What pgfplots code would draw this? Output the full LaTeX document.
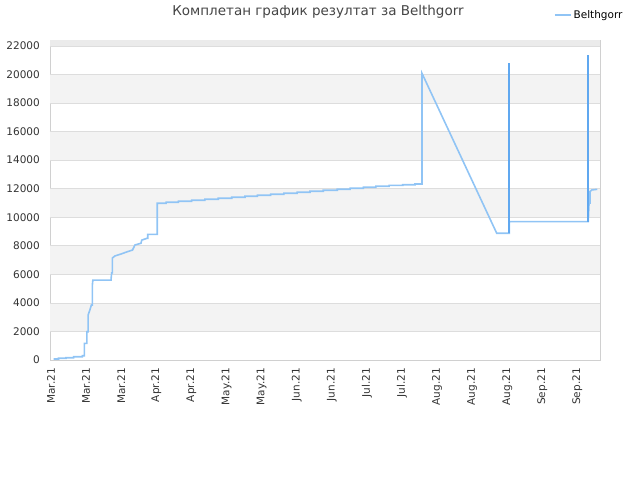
\documentclass[border=0pt]{standalone}
\usepackage{fontspec}
\setmainfont{DejaVu Sans}
\usepackage{pgfplots}
\pgfplotsset{compat=1.18}

\definecolor{linecol}{RGB}{144,196,245}
\definecolor{spikecol}{RGB}{96,168,240}
\definecolor{bandgray}{RGB}{243,243,243}
\definecolor{topgray}{RGB}{235,235,235}
\definecolor{gridgray}{RGB}{221,221,221}
\definecolor{boxgray}{RGB}{208,208,208}
\definecolor{titlegray}{RGB}{68,68,68}
\definecolor{tickgray}{RGB}{51,51,51}

\begin{document}
\begin{tikzpicture}
\path[use as bounding box] (-50bp,-120bp) rectangle (590bp,360bp);
\begin{axis}[
    scale only axis,
    width=550bp, height=320bp,
    at={(0,0)}, anchor=south west,
    xmin=-0.4, xmax=219,
    ymin=0, ymax=22420,
    axis line style={boxgray, line width=0.8bp},
    major tick length=0pt,
    scaled y ticks=false,
    ytick={0,2000,4000,6000,8000,10000,12000,14000,16000,18000,20000,22000},
    xtick={0,14,28,42,56,70,84,98,112,126,140,154,168,182,196,210},
    xticklabels={Mar.21,Mar.21,Mar.21,Apr.21,Apr.21,May.21,May.21,Jun.21,Jun.21,Jul.21,Jul.21,Aug.21,Aug.21,Aug.21,Sep.21,Sep.21},
    ticklabel style={font=\fontsize{10.5bp}{12bp}\selectfont, text=tickgray},
    yticklabel style={/pgf/number format/1000 sep={}, /pgf/number format/assume math mode=true, inner sep=0pt},
    yticklabel shift=10bp,
    xticklabel style={rotate=90, anchor=east, inner sep=0pt},
    xticklabel shift=8bp,
    legend style={at={(axis description cs:0.916,1.078)}, anchor=west, draw=none, fill=none,
        font=\fontsize{10.5bp}{12bp}\selectfont, inner sep=0pt},
    legend image code/.code={\draw[linecol, line width=1.6bp] (0bp,0bp) -- (11bp,0bp); \path (0bp,0bp) -- (16bp,0bp);},
]
% alternating bands and grid lines
\fill[bandgray] (axis cs:-0.4,2000) rectangle (axis cs:219,4000);
\fill[bandgray] (axis cs:-0.4,6000) rectangle (axis cs:219,8000);
\fill[bandgray] (axis cs:-0.4,10000) rectangle (axis cs:219,12000);
\fill[bandgray] (axis cs:-0.4,14000) rectangle (axis cs:219,16000);
\fill[bandgray] (axis cs:-0.4,18000) rectangle (axis cs:219,20000);
\fill[topgray] (axis cs:-0.4,22000) rectangle (axis cs:219,22420);
\pgfplotsinvokeforeach{2000,4000,6000,8000,10000,12000,14000,16000,18000,20000,22000}{
  \draw[gridgray, line width=0.8bp] (axis cs:-0.4,#1) -- (axis cs:219,#1);
}

\addplot[linecol, line width=1.6bp, line join=miter] coordinates {
(1,70) (3,70) (3,120) (6,120) (6,160) (9,160) (9,230) (12.5,230) (12.5,300)
(13.3,300) (13.3,1170) (14.3,1170) (14.3,1980) (14.8,1980) (14.8,3150)
(15.5,3500) (16.1,3850) (16.5,3850) (16.5,5250) (16.7,5600)
(24,5600) (24,5750) (24.2,6100) (24.5,6100) (24.5,7150)
(25.5,7290) (28,7430) (30.5,7590) (32.5,7700) (33.5,8060) (35.9,8180)
(36.2,8400) (38.2,8520) (38.6,8520) (38.6,8800) (42.4,8800) (42.4,10980)
(45.9,10980) (45.9,11050) (50.8,11050) (50.8,11120) (56.1,11120) (56.1,11190)
(61.4,11190) (61.4,11260) (66.7,11260) (66.7,11330) (72.1,11330) (72.1,11400)
(77.4,11400) (77.4,11470) (82.3,11470) (82.3,11540) (87.6,11540) (87.6,11610)
(92.9,11610) (92.9,11680) (98.2,11680) (98.2,11750) (103.3,11750) (103.3,11820)
(108.6,11820) (108.6,11890) (114.2,11890) (114.2,11960) (119.3,11960) (119.3,12030)
(124.6,12030) (124.6,12100) (129.6,12100) (129.6,12170) (134.9,12170) (134.9,12230)
(140.3,12230) (140.3,12280) (145.2,12280) (145.2,12330) (148,12330)
(148,20080) (177.8,8880) (182.8,8880) (182.8,9690) (214.3,9690)
(214.6,10860) (214.6,11000) (215.0,11000) (215.0,11800) (215.7,11910) (217.9,11960)
};
\addlegendentry{Belthgorr}
\addplot[spikecol, line width=1.6bp, forget plot] coordinates {(182.8,8880) (182.8,20790)};
\addplot[spikecol, line width=1.6bp, forget plot] coordinates {(214.3,9690) (214.3,21370)};
\end{axis}
\node[font=\fontsize{13.5bp}{15bp}\selectfont, text=titlegray] at (268bp,348bp) {Комплетан график резултат за Belthgorr};
\end{tikzpicture}
\end{document}
